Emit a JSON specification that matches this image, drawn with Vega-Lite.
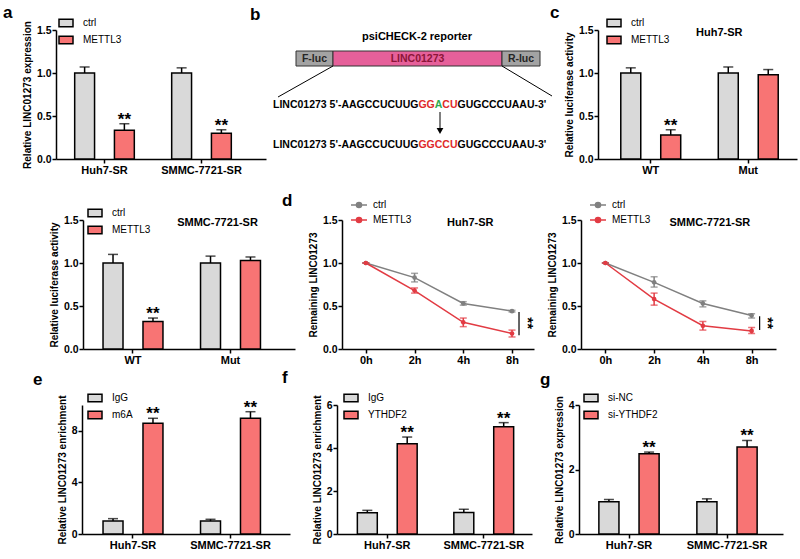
{
  "$schema": "https://vega.github.io/schema/vega-lite/v6.json",
  "background": "white",
  "padding": {"left": 3, "top": 4, "right": 2, "bottom": 2},
  "config": {
    "font": "Liberation Sans",
    "view": {"stroke": null},
    "axis": {"domainColor": "#000", "domainWidth": 1.5, "tickColor": "#000", "tickWidth": 1.5, "tickSize": 4, "labelColor": "#000", "labelFont": "Liberation Sans", "labelFontWeight": "bold", "labelFontSize": 10.5, "labelPadding": 1, "titleColor": "#000", "titleFont": "Liberation Sans", "titleFontWeight": "bold", "titleFontSize": 10, "titlePadding": 4, "grid": false},
    "axisX": {"labelAngle": 0, "labelFontSize": 11, "title": null},
    "legend": {"padding": 0, "labelFont": "Liberation Sans", "labelFontSize": 10, "labelColor": "#000", "orient": "none", "title": null},
    "title": {"font": "Liberation Sans", "fontSize": 17, "fontWeight": "bold", "color": "#000", "anchor": "start", "frame": "group", "baseline": "alphabetic"}
  },
  "bounds": "full",
  "spacing": 0,
  "resolve": {"scale": {"fill": "independent", "color": "independent", "xOffset": "independent", "x": "independent", "y": "independent"}, "legend": {"fill": "independent", "color": "independent"}},
  "vconcat": [
    {
      "bounds": "flush",
      "spacing": 47,
      "resolve": {"scale": {"fill": "independent", "color": "independent", "xOffset": "independent", "x": "independent", "y": "independent"}, "legend": {"fill": "independent", "color": "independent"}},
      "hconcat": [
        {"width": 1, "height": 162, "data": {"values": []}, "mark": "point"},
        {
          "width": 210, "height": 129,
          "title": {"text": "a", "dx": -53, "offset": -7},
          "data": {"values": [
            {"cell": "Huh7-SR", "group": "ctrl", "value": 1.0, "upper": 1.07, "sig": ""},
            {"cell": "Huh7-SR", "group": "METTL3", "value": 0.335, "upper": 0.41, "sig": "**"},
            {"cell": "SMMC-7721-SR", "group": "ctrl", "value": 1.0, "upper": 1.06, "sig": ""},
            {"cell": "SMMC-7721-SR", "group": "METTL3", "value": 0.30, "upper": 0.34, "sig": "**"}
          ]},
          "layer": [
            {"mark": {"type": "bar", "stroke": "#000", "strokeWidth": 1.5},
             "encoding": {
               "x": {"field": "cell", "type": "nominal", "sort": null, "scale": {"paddingInner": 0, "paddingOuter": 0.0825, "align": 0}},
               "xOffset": {"field": "group", "type": "nominal", "sort": null, "scale": {"paddingInner": 0.5, "paddingOuter": 0.47}},
               "y": {"field": "value", "type": "quantitative", "scale": {"domain": [0, 1.5], "nice": false}, "axis": {"values": [0, 0.5, 1, 1.5], "format": ".1f", "title": "Relative LINC01273 expression"}},
               "fill": {"field": "group", "type": "nominal", "sort": null, "scale": {"range": ["#d9d9d9", "#f87474"]}, "legend": {"legendX": 2, "legendY": -15, "symbolType": "M-1,-0.55H1V0.55H-1Z", "symbolSize": 196, "symbolStrokeColor": "#000", "symbolStrokeWidth": 1.5, "labelOffset": 9, "rowPadding": 2}}
             }},
            {"mark": {"type": "rule", "color": "#000", "strokeWidth": 1.5},
             "encoding": {
               "x": {"field": "cell", "type": "nominal", "sort": null},
               "xOffset": {"field": "group", "type": "nominal", "sort": null},
               "y": {"field": "value", "type": "quantitative"}, "y2": {"field": "upper"}}},
            {"mark": {"type": "tick", "color": "#000", "thickness": 1.5, "size": 10},
             "encoding": {
               "x": {"field": "cell", "type": "nominal", "sort": null},
               "xOffset": {"field": "group", "type": "nominal", "sort": null},
               "y": {"field": "upper", "type": "quantitative"}}},
            {"mark": {"type": "text", "color": "#000", "fontSize": 17, "fontWeight": "bold", "baseline": "alphabetic", "dy": 1},
             "encoding": {
               "x": {"field": "cell", "type": "nominal", "sort": null},
               "xOffset": {"field": "group", "type": "nominal", "sort": null},
               "y": {"field": "upper", "type": "quantitative"}, "text": {"field": "sig"}}}
          ]
        },
        {
          "width": 238, "height": 129,
          "title": {"text": "b", "dx": -63, "offset": 6},
          "layer": [
            {"data": {"values": [
               {"part": "F-luc", "kind": "luc", "x1": 24, "x2": 61, "y1": 21, "y2": 36},
               {"part": "LINC01273", "kind": "lnc", "x1": 61, "x2": 230, "y1": 21, "y2": 36},
               {"part": "R-luc", "kind": "luc", "x1": 230, "x2": 268, "y1": 21, "y2": 36}
             ]},
             "mark": {"type": "rect", "stroke": "#333", "strokeWidth": 1},
             "encoding": {
               "x": {"field": "x1", "type": "quantitative", "scale": {"domain": [41, 279], "nice": false, "zero": false}, "axis": null},
               "x2": {"field": "x2"},
               "y": {"field": "y1", "type": "quantitative", "scale": {"domain": [0, 129], "nice": false, "zero": false, "reverse": true}, "axis": null},
               "y2": {"field": "y2"},
               "fill": {"field": "kind", "type": "nominal", "scale": {"domain": ["luc", "lnc"], "range": ["#a3a3a3", "#e6609a"]}, "legend": null}
             }},
            {"data": {"values": [
               {"part": "F-luc", "kind": "luc", "xm": 42.5, "ym": 28.5},
               {"part": "LINC01273", "kind": "lnc", "xm": 145.5, "ym": 28.5},
               {"part": "R-luc", "kind": "luc", "xm": 249, "ym": 28.5}
             ]},
             "mark": {"type": "text", "fontSize": 10.5, "fontWeight": "bold", "baseline": "middle", "align": "center"},
             "encoding": {
               "x": {"field": "xm", "type": "quantitative"},
               "y": {"field": "ym", "type": "quantitative"},
               "text": {"field": "part"},
               "color": {"field": "kind", "type": "nominal", "scale": {"domain": ["luc", "lnc"], "range": ["#262626", "#8b1538"]}, "legend": null}
             }},
            {"data": {"values": [{"label": "psiCHECK-2  reporter", "xm": 145, "ym": 7}]},
             "mark": {"type": "text", "fontSize": 11, "fontWeight": "bold", "baseline": "middle", "align": "center", "color": "#000"},
             "encoding": {
               "x": {"field": "xm", "type": "quantitative"},
               "y": {"field": "ym", "type": "quantitative"},
               "text": {"field": "label"}}},
            {"data": {"values": [
               {"xa": 61, "ya": 36, "xb": 6, "yb": 67},
               {"xa": 230, "ya": 36, "xb": 280, "yb": 66},
               {"xa": 168, "ya": 82, "xb": 168, "yb": 100}
             ]},
             "mark": {"type": "rule", "color": "#000", "strokeWidth": 1},
             "encoding": {
               "x": {"field": "xa", "type": "quantitative"},
               "x2": {"field": "xb"},
               "y": {"field": "ya", "type": "quantitative"},
               "y2": {"field": "yb"}}},
            {"data": {"values": [{"xa": 168, "ya": 101}]},
             "mark": {"type": "point", "shape": "triangle-down", "filled": true, "color": "#000", "size": 45, "opacity": 1},
             "encoding": {
               "x": {"field": "xa", "type": "quantitative"},
               "y": {"field": "ya", "type": "quantitative"}}},
            {"data": {"values": [
               {"seq": "LINC01273 5'-AAGCCUCUUG", "role": "plain", "xs": 1, "ys": 75},
               {"seq": "GG", "role": "motif", "xs": 146.4, "ys": 75},
               {"seq": "A", "role": "site", "xs": 162.7, "ys": 75},
               {"seq": "CU", "role": "motif", "xs": 170.3, "ys": 75},
               {"seq": "GUGCCCUAAU-3'", "role": "plain", "xs": 185.5, "ys": 75},
               {"seq": "LINC01273 5'-AAGCCUCUUG", "role": "plain", "xs": 1, "ys": 115},
               {"seq": "GGCCU", "role": "motif", "xs": 146.4, "ys": 115},
               {"seq": "GUGCCCUAAU-3'", "role": "plain", "xs": 185.5, "ys": 115}
             ]},
             "mark": {"type": "text", "fontSize": 10.5, "fontWeight": "bold", "baseline": "middle", "align": "left"},
             "encoding": {
               "x": {"field": "xs", "type": "quantitative"},
               "y": {"field": "ys", "type": "quantitative"},
               "text": {"field": "seq"},
               "color": {"field": "role", "type": "nominal", "scale": {"domain": ["plain", "motif", "site"], "range": ["#000000", "#e02a2a", "#2fa84f"]}, "legend": null}
             }}
          ],
          "resolve": {"scale": {"color": "independent"}}
        },
        {
          "width": 199, "height": 129,
          "title": {"text": "c", "dx": -48, "offset": -7},
          "data": {"values": [
            {"cell": "WT", "group": "ctrl", "value": 1.0, "upper": 1.06, "sig": ""},
            {"cell": "WT", "group": "METTL3", "value": 0.28, "upper": 0.34, "sig": "**"},
            {"cell": "Mut", "group": "ctrl", "value": 1.0, "upper": 1.07, "sig": ""},
            {"cell": "Mut", "group": "METTL3", "value": 0.98, "upper": 1.04, "sig": ""}
          ]},
          "layer": [
            {"mark": {"type": "bar", "stroke": "#000", "strokeWidth": 1.5},
             "encoding": {
               "x": {"field": "cell", "type": "nominal", "sort": null, "scale": {"paddingInner": 0, "paddingOuter": 0.0205, "align": 1}},
               "xOffset": {"field": "group", "type": "nominal", "sort": null, "scale": {"paddingInner": 0.5, "paddingOuter": 0.47}},
               "y": {"field": "value", "type": "quantitative", "scale": {"domain": [0, 1.5], "nice": false}, "axis": {"values": [0, 0.5, 1, 1.5], "format": ".1f", "title": "Relative luciferase activity"}},
               "fill": {"field": "group", "type": "nominal", "sort": null, "scale": {"range": ["#d9d9d9", "#f87474"]}, "legend": {"legendX": 8, "legendY": -15, "symbolType": "M-1,-0.55H1V0.55H-1Z", "symbolSize": 196, "symbolStrokeColor": "#000", "symbolStrokeWidth": 1.5, "labelOffset": 9, "rowPadding": 2}}
             }},
            {"mark": {"type": "rule", "color": "#000", "strokeWidth": 1.5},
             "encoding": {
               "x": {"field": "cell", "type": "nominal", "sort": null},
               "xOffset": {"field": "group", "type": "nominal", "sort": null},
               "y": {"field": "value", "type": "quantitative"}, "y2": {"field": "upper"}}},
            {"mark": {"type": "tick", "color": "#000", "thickness": 1.5, "size": 10},
             "encoding": {
               "x": {"field": "cell", "type": "nominal", "sort": null},
               "xOffset": {"field": "group", "type": "nominal", "sort": null},
               "y": {"field": "upper", "type": "quantitative"}}},
            {"mark": {"type": "text", "color": "#000", "fontSize": 17, "fontWeight": "bold", "baseline": "alphabetic", "dy": 1},
             "encoding": {
               "x": {"field": "cell", "type": "nominal", "sort": null},
               "xOffset": {"field": "group", "type": "nominal", "sort": null},
               "y": {"field": "upper", "type": "quantitative"}, "text": {"field": "sig"}}},
            {"data": {"values": [{"cell": "Mut", "label": "Huh7-SR"}]},
             "mark": {"type": "text", "color": "#000", "fontSize": 11, "fontWeight": "bold", "baseline": "middle", "dx": -29},
             "encoding": {
               "x": {"field": "cell", "type": "nominal", "sort": null},
               "y": {"datum": 1.47, "type": "quantitative"}, "text": {"field": "label"}}}
          ]
        }
      ]
    },
    {
      "bounds": "flush",
      "spacing": 47,
      "resolve": {"scale": {"fill": "independent", "color": "independent", "xOffset": "independent", "x": "independent", "y": "independent"}, "legend": {"fill": "independent", "color": "independent"}},
      "hconcat": [
        {"width": 28, "height": 149, "data": {"values": []}, "mark": "point"},
        {
          "width": 212, "height": 129,
          "data": {"values": [
            {"cell": "WT", "group": "ctrl", "value": 1.0, "upper": 1.10, "sig": ""},
            {"cell": "WT", "group": "METTL3", "value": 0.32, "upper": 0.36, "sig": "**"},
            {"cell": "Mut", "group": "ctrl", "value": 1.0, "upper": 1.08, "sig": ""},
            {"cell": "Mut", "group": "METTL3", "value": 1.03, "upper": 1.07, "sig": ""}
          ]},
          "layer": [
            {"mark": {"type": "bar", "stroke": "#000", "strokeWidth": 1.5},
             "encoding": {
               "x": {"field": "cell", "type": "nominal", "sort": null, "scale": {"paddingInner": 0, "paddingOuter": 0.0872, "align": 0.0735}},
               "xOffset": {"field": "group", "type": "nominal", "sort": null, "scale": {"paddingInner": 0.5, "paddingOuter": 0.47}},
               "y": {"field": "value", "type": "quantitative", "scale": {"domain": [0, 1.5], "nice": false}, "axis": {"values": [0, 0.5, 1, 1.5], "format": ".1f", "title": "Relative luciferase activity"}},
               "fill": {"field": "group", "type": "nominal", "sort": null, "scale": {"range": ["#d9d9d9", "#f87474"]}, "legend": {"legendX": 4, "legendY": -15, "symbolType": "M-1,-0.55H1V0.55H-1Z", "symbolSize": 196, "symbolStrokeColor": "#000", "symbolStrokeWidth": 1.5, "labelOffset": 9, "rowPadding": 2}}
             }},
            {"mark": {"type": "rule", "color": "#000", "strokeWidth": 1.5},
             "encoding": {
               "x": {"field": "cell", "type": "nominal", "sort": null},
               "xOffset": {"field": "group", "type": "nominal", "sort": null},
               "y": {"field": "value", "type": "quantitative"}, "y2": {"field": "upper"}}},
            {"mark": {"type": "tick", "color": "#000", "thickness": 1.5, "size": 10},
             "encoding": {
               "x": {"field": "cell", "type": "nominal", "sort": null},
               "xOffset": {"field": "group", "type": "nominal", "sort": null},
               "y": {"field": "upper", "type": "quantitative"}}},
            {"mark": {"type": "text", "color": "#000", "fontSize": 17, "fontWeight": "bold", "baseline": "alphabetic", "dy": 1},
             "encoding": {
               "x": {"field": "cell", "type": "nominal", "sort": null},
               "xOffset": {"field": "group", "type": "nominal", "sort": null},
               "y": {"field": "upper", "type": "quantitative"}, "text": {"field": "sig"}}},
            {"data": {"values": [{"cell": "Mut", "label": "SMMC-7721-SR"}]},
             "mark": {"type": "text", "color": "#000", "fontSize": 11, "fontWeight": "bold", "baseline": "middle", "dx": -13},
             "encoding": {
               "x": {"field": "cell", "type": "nominal", "sort": null},
               "y": {"datum": 1.47, "type": "quantitative"}, "text": {"field": "label"}}}
          ]
        },
        {
          "width": 192, "height": 129,
          "title": {"text": "d", "dx": -60, "offset": -14},
          "data": {"values": [
            {"time": "0h", "group": "ctrl", "value": 1.0, "lo": 1.0, "hi": 1.0},
            {"time": "2h", "group": "ctrl", "value": 0.83, "lo": 0.78, "hi": 0.88},
            {"time": "4h", "group": "ctrl", "value": 0.53, "lo": 0.51, "hi": 0.55},
            {"time": "8h", "group": "ctrl", "value": 0.44, "lo": 0.43, "hi": 0.45},
            {"time": "0h", "group": "METTL3", "value": 1.0, "lo": 1.0, "hi": 1.0},
            {"time": "2h", "group": "METTL3", "value": 0.68, "lo": 0.65, "hi": 0.71},
            {"time": "4h", "group": "METTL3", "value": 0.31, "lo": 0.26, "hi": 0.36},
            {"time": "8h", "group": "METTL3", "value": 0.18, "lo": 0.14, "hi": 0.22}
          ]},
          "encoding": {
            "x": {"field": "time", "type": "ordinal", "sort": null, "scale": {"type": "point", "padding": 0.47, "align": 0.52}},
            "color": {"field": "group", "type": "nominal", "sort": null, "scale": {"domain": ["ctrl", "METTL3"], "range": ["#808080", "#e23b43"]},
              "legend": {"legendX": 8, "legendY": -24, "symbolType": "M-1,0H1M-0.32,0A0.32,0.32,0,1,0,0.32,0A0.32,0.32,0,1,0,-0.32,0", "symbolSize": 256, "symbolStrokeWidth": 1.5, "labelOffset": 5, "rowPadding": 0,
                "encode": {"symbols": {"update": {"fill": {"signal": "datum.value === 'ctrl' ? '#808080' : '#e23b43'"}, "stroke": {"signal": "datum.value === 'ctrl' ? '#808080' : '#e23b43'"}, "opacity": {"value": 1}}}}}}
          },
          "layer": [
            {"mark": {"type": "line", "strokeWidth": 1.5},
             "encoding": {"y": {"field": "value", "type": "quantitative", "scale": {"domain": [0, 1.5], "nice": false}, "axis": {"values": [0, 0.5, 1, 1.5], "format": ".1f", "title": "Remaining LINC01273"}}}},
            {"mark": {"type": "rule", "strokeWidth": 1.5},
             "encoding": {"y": {"field": "lo", "type": "quantitative"}, "y2": {"field": "hi"}}},
            {"mark": {"type": "tick", "thickness": 1.5, "size": 7},
             "encoding": {"y": {"field": "lo", "type": "quantitative"}}},
            {"mark": {"type": "tick", "thickness": 1.5, "size": 7},
             "encoding": {"y": {"field": "hi", "type": "quantitative"}}},
            {"mark": {"type": "point", "filled": true, "size": 22, "opacity": 1},
             "encoding": {"y": {"field": "value", "type": "quantitative"}}},
            {"data": {"values": [{"time": "8h", "a": 0.43, "b": 0.16, "mid": 0.30, "sig": "**"}]},
             "mark": {"type": "rule", "strokeWidth": 1.2, "xOffset": 7},
             "encoding": {"color": {"value": "#000"}, "y": {"field": "a", "type": "quantitative"}, "y2": {"field": "b"}}},
            {"data": {"values": [{"time": "8h", "a": 0.43, "b": 0.16, "mid": 0.30, "sig": "**"}]},
             "mark": {"type": "text", "fontSize": 15, "fontWeight": "bold", "angle": 90, "align": "center", "baseline": "middle", "xOffset": 16},
             "encoding": {"color": {"value": "#000"}, "y": {"field": "mid", "type": "quantitative"}, "text": {"field": "sig"}}},
            {"data": {"values": [{"time": "4h", "label": "Huh7-SR"}]},
             "mark": {"type": "text", "fontSize": 11, "fontWeight": "bold", "baseline": "middle", "dx": 7},
             "encoding": {"color": {"value": "#000"}, "y": {"datum": 1.47, "type": "quantitative"}, "text": {"field": "label"}}}
          ]
        },
        {
          "width": 195, "height": 129,
          "data": {"values": [
            {"time": "0h", "group": "ctrl", "value": 1.0, "lo": 1.0, "hi": 1.0},
            {"time": "2h", "group": "ctrl", "value": 0.775, "lo": 0.72, "hi": 0.84},
            {"time": "4h", "group": "ctrl", "value": 0.53, "lo": 0.49, "hi": 0.56},
            {"time": "8h", "group": "ctrl", "value": 0.39, "lo": 0.36, "hi": 0.41},
            {"time": "0h", "group": "METTL3", "value": 1.0, "lo": 1.0, "hi": 1.0},
            {"time": "2h", "group": "METTL3", "value": 0.58, "lo": 0.51, "hi": 0.65},
            {"time": "4h", "group": "METTL3", "value": 0.27, "lo": 0.22, "hi": 0.32},
            {"time": "8h", "group": "METTL3", "value": 0.21, "lo": 0.18, "hi": 0.25}
          ]},
          "encoding": {
            "x": {"field": "time", "type": "ordinal", "sort": null, "scale": {"type": "point", "padding": 0.5}},
            "color": {"field": "group", "type": "nominal", "sort": null, "scale": {"domain": ["ctrl", "METTL3"], "range": ["#808080", "#e23b43"]},
              "legend": {"legendX": 8, "legendY": -24, "symbolType": "M-1,0H1M-0.32,0A0.32,0.32,0,1,0,0.32,0A0.32,0.32,0,1,0,-0.32,0", "symbolSize": 256, "symbolStrokeWidth": 1.5, "labelOffset": 5, "rowPadding": 0,
                "encode": {"symbols": {"update": {"fill": {"signal": "datum.value === 'ctrl' ? '#808080' : '#e23b43'"}, "stroke": {"signal": "datum.value === 'ctrl' ? '#808080' : '#e23b43'"}, "opacity": {"value": 1}}}}}}
          },
          "layer": [
            {"mark": {"type": "line", "strokeWidth": 1.5},
             "encoding": {"y": {"field": "value", "type": "quantitative", "scale": {"domain": [0, 1.5], "nice": false}, "axis": {"values": [0, 0.5, 1, 1.5], "format": ".1f", "title": "Remaining LINC01273"}}}},
            {"mark": {"type": "rule", "strokeWidth": 1.5},
             "encoding": {"y": {"field": "lo", "type": "quantitative"}, "y2": {"field": "hi"}}},
            {"mark": {"type": "tick", "thickness": 1.5, "size": 7},
             "encoding": {"y": {"field": "lo", "type": "quantitative"}}},
            {"mark": {"type": "tick", "thickness": 1.5, "size": 7},
             "encoding": {"y": {"field": "hi", "type": "quantitative"}}},
            {"mark": {"type": "point", "filled": true, "size": 22, "opacity": 1},
             "encoding": {"y": {"field": "value", "type": "quantitative"}}},
            {"data": {"values": [{"time": "8h", "a": 0.38, "b": 0.22, "mid": 0.30, "sig": "**"}]},
             "mark": {"type": "rule", "strokeWidth": 1.2, "xOffset": 8},
             "encoding": {"color": {"value": "#000"}, "y": {"field": "a", "type": "quantitative"}, "y2": {"field": "b"}}},
            {"data": {"values": [{"time": "8h", "a": 0.38, "b": 0.22, "mid": 0.30, "sig": "**"}]},
             "mark": {"type": "text", "fontSize": 15, "fontWeight": "bold", "angle": 90, "align": "center", "baseline": "middle", "xOffset": 16},
             "encoding": {"color": {"value": "#000"}, "y": {"field": "mid", "type": "quantitative"}, "text": {"field": "sig"}}},
            {"data": {"values": [{"time": "4h", "label": "SMMC-7721-SR"}]},
             "mark": {"type": "text", "fontSize": 11, "fontWeight": "bold", "baseline": "middle", "dx": 7},
             "encoding": {"color": {"value": "#000"}, "y": {"datum": 1.47, "type": "quantitative"}, "text": {"field": "label"}}}
          ]
        }
      ]
    },
    {
      "bounds": "flush",
      "spacing": 47,
      "resolve": {"scale": {"fill": "independent", "color": "independent", "xOffset": "independent", "x": "independent", "y": "independent"}, "legend": {"fill": "independent", "color": "independent"}},
      "hconcat": [
        {"width": 27, "height": 129, "data": {"values": []}, "mark": "point"},
        {
          "width": 208, "height": 129,
          "title": {"text": "e", "dx": -49, "offset": 1},
          "data": {"values": [
            {"cell": "Huh7-SR", "group": "IgG", "value": 1.0, "upper": 1.19, "sig": ""},
            {"cell": "Huh7-SR", "group": "m6A", "value": 8.58, "upper": 8.97, "sig": "**"},
            {"cell": "SMMC-7721-SR", "group": "IgG", "value": 1.0, "upper": 1.14, "sig": ""},
            {"cell": "SMMC-7721-SR", "group": "m6A", "value": 8.97, "upper": 9.48, "sig": "**"}
          ]},
          "layer": [
            {"mark": {"type": "bar", "stroke": "#000", "strokeWidth": 1.5},
             "encoding": {
               "x": {"field": "cell", "type": "nominal", "sort": null, "scale": {"paddingInner": 0, "paddingOuter": 0.0667, "align": 0.173}},
               "xOffset": {"field": "group", "type": "nominal", "sort": null, "scale": {"paddingInner": 0.5, "paddingOuter": 0.47}},
               "y": {"field": "value", "type": "quantitative", "scale": {"domain": [0, 10], "nice": false}, "axis": {"values": [0, 2, 4, 6, 8, 10], "format": "d", "title": "Relative LINC01273 enrichment"}},
               "fill": {"field": "group", "type": "nominal", "sort": null, "scale": {"range": ["#d9d9d9", "#f87474"]}, "legend": {"legendX": 5, "legendY": -15, "symbolType": "M-1,-0.55H1V0.55H-1Z", "symbolSize": 196, "symbolStrokeColor": "#000", "symbolStrokeWidth": 1.5, "labelOffset": 9, "rowPadding": 2}}
             }},
            {"mark": {"type": "rule", "color": "#000", "strokeWidth": 1.5},
             "encoding": {
               "x": {"field": "cell", "type": "nominal", "sort": null},
               "xOffset": {"field": "group", "type": "nominal", "sort": null},
               "y": {"field": "value", "type": "quantitative"}, "y2": {"field": "upper"}}},
            {"mark": {"type": "tick", "color": "#000", "thickness": 1.5, "size": 10},
             "encoding": {
               "x": {"field": "cell", "type": "nominal", "sort": null},
               "xOffset": {"field": "group", "type": "nominal", "sort": null},
               "y": {"field": "upper", "type": "quantitative"}}},
            {"mark": {"type": "text", "color": "#000", "fontSize": 17, "fontWeight": "bold", "baseline": "alphabetic", "dy": 1},
             "encoding": {
               "x": {"field": "cell", "type": "nominal", "sort": null},
               "xOffset": {"field": "group", "type": "nominal", "sort": null},
               "y": {"field": "upper", "type": "quantitative"}, "text": {"field": "sig"}}}
          ]
        },
        {
          "width": 195, "height": 129,
          "title": {"text": "f", "dx": -55, "offset": 3},
          "data": {"values": [
            {"cell": "Huh7-SR", "group": "IgG", "value": 0.99, "upper": 1.10, "sig": ""},
            {"cell": "Huh7-SR", "group": "YTHDF2", "value": 4.2, "upper": 4.51, "sig": "**"},
            {"cell": "SMMC-7721-SR", "group": "IgG", "value": 1.0, "upper": 1.15, "sig": ""},
            {"cell": "SMMC-7721-SR", "group": "YTHDF2", "value": 4.99, "upper": 5.18, "sig": "**"}
          ]},
          "layer": [
            {"mark": {"type": "bar", "stroke": "#000", "strokeWidth": 1.5},
             "encoding": {
               "x": {"field": "cell", "type": "nominal", "sort": null, "scale": {"paddingInner": 0, "paddingOuter": 0.0104, "align": 1}},
               "xOffset": {"field": "group", "type": "nominal", "sort": null, "scale": {"paddingInner": 0.5, "paddingOuter": 0.46}},
               "y": {"field": "value", "type": "quantitative", "scale": {"domain": [0, 6], "nice": false}, "axis": {"values": [0, 2, 4, 6], "format": "d", "title": "Relative LINC01273 enrichment"}},
               "fill": {"field": "group", "type": "nominal", "sort": null, "scale": {"range": ["#d9d9d9", "#f87474"]}, "legend": {"legendX": 6, "legendY": -15, "symbolType": "M-1,-0.55H1V0.55H-1Z", "symbolSize": 196, "symbolStrokeColor": "#000", "symbolStrokeWidth": 1.5, "labelOffset": 9, "rowPadding": 2}}
             }},
            {"mark": {"type": "rule", "color": "#000", "strokeWidth": 1.5},
             "encoding": {
               "x": {"field": "cell", "type": "nominal", "sort": null},
               "xOffset": {"field": "group", "type": "nominal", "sort": null},
               "y": {"field": "value", "type": "quantitative"}, "y2": {"field": "upper"}}},
            {"mark": {"type": "tick", "color": "#000", "thickness": 1.5, "size": 10},
             "encoding": {
               "x": {"field": "cell", "type": "nominal", "sort": null},
               "xOffset": {"field": "group", "type": "nominal", "sort": null},
               "y": {"field": "upper", "type": "quantitative"}}},
            {"mark": {"type": "text", "color": "#000", "fontSize": 17, "fontWeight": "bold", "baseline": "alphabetic", "dy": 1},
             "encoding": {
               "x": {"field": "cell", "type": "nominal", "sort": null},
               "xOffset": {"field": "group", "type": "nominal", "sort": null},
               "y": {"field": "upper", "type": "quantitative"}, "text": {"field": "sig"}}}
          ]
        },
        {
          "width": 204, "height": 129,
          "title": {"text": "g", "dx": -39, "offset": 1},
          "data": {"values": [
            {"cell": "Huh7-SR", "group": "si-NC", "value": 1.0, "upper": 1.07, "sig": ""},
            {"cell": "Huh7-SR", "group": "si-YTHDF2", "value": 2.49, "upper": 2.54, "sig": "**"},
            {"cell": "SMMC-7721-SR", "group": "si-NC", "value": 1.0, "upper": 1.09, "sig": ""},
            {"cell": "SMMC-7721-SR", "group": "si-YTHDF2", "value": 2.7, "upper": 2.9, "sig": "**"}
          ]},
          "layer": [
            {"mark": {"type": "bar", "stroke": "#000", "strokeWidth": 1.5},
             "encoding": {
               "x": {"field": "cell", "type": "nominal", "sort": null, "scale": {"paddingInner": 0, "paddingOuter": 0.0408, "align": 0.125}},
               "xOffset": {"field": "group", "type": "nominal", "sort": null, "scale": {"paddingInner": 0.5, "paddingOuter": 0.47}},
               "y": {"field": "value", "type": "quantitative", "scale": {"domain": [0, 4], "nice": false}, "axis": {"values": [0, 1, 2, 3, 4], "format": "d", "title": "Relative LINC01273 expression"}},
               "fill": {"field": "group", "type": "nominal", "sort": null, "scale": {"range": ["#d9d9d9", "#f87474"]}, "legend": {"legendX": 4, "legendY": -15, "symbolType": "M-1,-0.55H1V0.55H-1Z", "symbolSize": 196, "symbolStrokeColor": "#000", "symbolStrokeWidth": 1.5, "labelOffset": 9, "rowPadding": 2}}
             }},
            {"mark": {"type": "rule", "color": "#000", "strokeWidth": 1.5},
             "encoding": {
               "x": {"field": "cell", "type": "nominal", "sort": null},
               "xOffset": {"field": "group", "type": "nominal", "sort": null},
               "y": {"field": "value", "type": "quantitative"}, "y2": {"field": "upper"}}},
            {"mark": {"type": "tick", "color": "#000", "thickness": 1.5, "size": 10},
             "encoding": {
               "x": {"field": "cell", "type": "nominal", "sort": null},
               "xOffset": {"field": "group", "type": "nominal", "sort": null},
               "y": {"field": "upper", "type": "quantitative"}}},
            {"mark": {"type": "text", "color": "#000", "fontSize": 17, "fontWeight": "bold", "baseline": "alphabetic", "dy": 1},
             "encoding": {
               "x": {"field": "cell", "type": "nominal", "sort": null},
               "xOffset": {"field": "group", "type": "nominal", "sort": null},
               "y": {"field": "upper", "type": "quantitative"}, "text": {"field": "sig"}}}
          ]
        }
      ]
    }
  ]
}
